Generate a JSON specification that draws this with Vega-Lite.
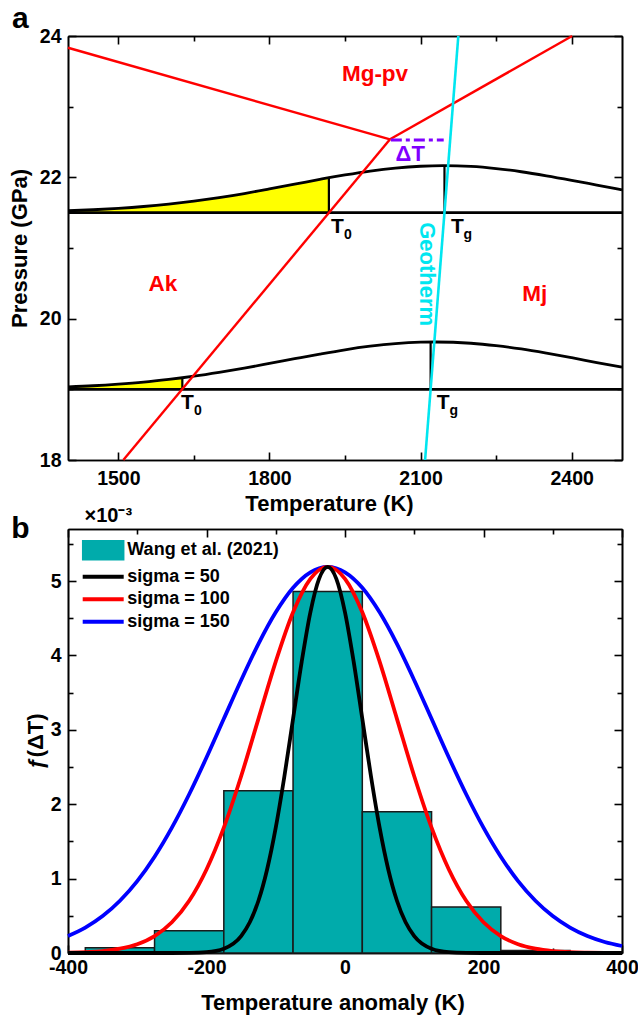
{
  "$schema": "https://vega.github.io/schema/vega-lite/v6.json",
  "padding": {"left": 8, "top": 3, "right": 4, "bottom": 2},
  "spacing": -9,
  "resolve": {"scale": {"color": "independent"}, "legend": {"color": "independent"}},
  "config": {
    "font": "Liberation Sans",
    "view": {"stroke": null},
    "axis": {"grid": false, "domainColor": "black", "domainWidth": 1.6, "tickColor": "black", "tickWidth": 1.6,
      "labelColor": "black", "labelFont": "Liberation Sans", "labelFontSize": 19.5, "labelFontWeight": "bold",
      "titleColor": "black", "titleFont": "Liberation Sans", "titleFontSize": 22, "titleFontWeight": "bold",
      "zindex": 1, "labelFlush": false, "labelOverlap": false}
  },
  "datasets": {
    "curveA": [
      {"T": 1400, "P": 21.527, "c": "u"}, {"T": 1450, "P": 21.541, "c": "u"}, {"T": 1500, "P": 21.561, "c": "u"},
      {"T": 1550, "P": 21.587, "c": "u"}, {"T": 1600, "P": 21.621, "c": "u"}, {"T": 1650, "P": 21.663, "c": "u"},
      {"T": 1700, "P": 21.713, "c": "u"}, {"T": 1750, "P": 21.771, "c": "u"}, {"T": 1800, "P": 21.836, "c": "u"},
      {"T": 1850, "P": 21.903, "c": "u"}, {"T": 1900, "P": 21.971, "c": "u"}, {"T": 1918, "P": 21.995, "c": "u"},
      {"T": 1950, "P": 22.034, "c": "u"}, {"T": 2000, "P": 22.089, "c": "u"}, {"T": 2050, "P": 22.131, "c": "u"},
      {"T": 2100, "P": 22.157, "c": "u"}, {"T": 2145, "P": 22.165, "c": "u"}, {"T": 2200, "P": 22.154, "c": "u"},
      {"T": 2250, "P": 22.124, "c": "u"}, {"T": 2300, "P": 22.079, "c": "u"}, {"T": 2350, "P": 22.022, "c": "u"},
      {"T": 2400, "P": 21.958, "c": "u"}, {"T": 2450, "P": 21.89, "c": "u"}, {"T": 2500, "P": 21.822, "c": "u"},
      {"T": 1400, "P": 19.035, "c": "l"}, {"T": 1450, "P": 19.051, "c": "l"}, {"T": 1500, "P": 19.074, "c": "l"},
      {"T": 1550, "P": 19.103, "c": "l"}, {"T": 1600, "P": 19.141, "c": "l"}, {"T": 1627, "P": 19.164, "c": "l"},
      {"T": 1650, "P": 19.186, "c": "l"}, {"T": 1700, "P": 19.24, "c": "l"}, {"T": 1750, "P": 19.3, "c": "l"},
      {"T": 1800, "P": 19.366, "c": "l"}, {"T": 1850, "P": 19.433, "c": "l"}, {"T": 1900, "P": 19.499, "c": "l"},
      {"T": 1950, "P": 19.56, "c": "l"}, {"T": 2000, "P": 19.61, "c": "l"}, {"T": 2050, "P": 19.647, "c": "l"},
      {"T": 2100, "P": 19.667, "c": "l"}, {"T": 2130, "P": 19.67, "c": "l"}, {"T": 2200, "P": 19.652, "c": "l"},
      {"T": 2250, "P": 19.618, "c": "l"}, {"T": 2300, "P": 19.571, "c": "l"}, {"T": 2350, "P": 19.512, "c": "l"},
      {"T": 2400, "P": 19.447, "c": "l"}, {"T": 2450, "P": 19.379, "c": "l"}, {"T": 2500, "P": 19.313, "c": "l"}
    ],
    "fillA": [
      {"T": 1400, "P": 21.527, "B": 21.5, "c": "u"}, {"T": 1450, "P": 21.541, "B": 21.5, "c": "u"}, {"T": 1500, "P": 21.561, "B": 21.5, "c": "u"},
      {"T": 1550, "P": 21.587, "B": 21.5, "c": "u"}, {"T": 1600, "P": 21.621, "B": 21.5, "c": "u"}, {"T": 1650, "P": 21.663, "B": 21.5, "c": "u"},
      {"T": 1700, "P": 21.713, "B": 21.5, "c": "u"}, {"T": 1750, "P": 21.771, "B": 21.5, "c": "u"}, {"T": 1800, "P": 21.836, "B": 21.5, "c": "u"},
      {"T": 1850, "P": 21.903, "B": 21.5, "c": "u"}, {"T": 1900, "P": 21.971, "B": 21.5, "c": "u"}, {"T": 1918, "P": 21.995, "B": 21.5, "c": "u"},
      {"T": 1400, "P": 19.035, "B": 19, "c": "l"}, {"T": 1450, "P": 19.051, "B": 19, "c": "l"}, {"T": 1500, "P": 19.074, "B": 19, "c": "l"},
      {"T": 1550, "P": 19.103, "B": 19, "c": "l"}, {"T": 1600, "P": 19.141, "B": 19, "c": "l"}, {"T": 1627, "P": 19.164, "B": 19, "c": "l"}
    ],
    "baseA": [{"P": 21.5}, {"P": 19}],
    "vertA": [
      {"T": 1918, "P1": 21.5, "P2": 21.995}, {"T": 2147.5, "P1": 21.5, "P2": 22.165},
      {"T": 1627, "P1": 19, "P2": 19.164}, {"T": 2120, "P1": 19, "P2": 19.67}
    ],
    "phaseA": [
      {"T1": 1400, "P1": 23.834, "T2": 2039.4, "P2": 22.538},
      {"T1": 1509.8, "P1": 18, "T2": 2039.4, "P2": 22.538},
      {"T1": 2039.4, "P1": 22.538, "T2": 2401, "P2": 24}
    ],
    "geoA": [{"T1": 2109, "P1": 18, "T2": 2175, "P2": 24}],
    "dTA": [{"T1": 2041, "P1": 22.528, "T2": 2146, "P2": 22.528}],
    "phaseLab": [
      {"T": 2009.6, "P": 23.46, "text": "Mg-pv"},
      {"T": 1588.6, "P": 20.49, "text": "Ak"},
      {"T": 2327, "P": 20.35, "text": "Mj"}
    ],
    "dTLab": [{"T": 2079.5, "P": 22.337, "text": "ΔT"}],
    "geoLab": [{"T": 2112.8, "P": 20.63, "text": "Geotherm"}],
    "tLab": [
      {"T": 1934.7, "P": 21.304, "main": "T", "sub": "0"},
      {"T": 2173, "P": 21.304, "main": "T", "sub": "g"},
      {"T": 1637.3, "P": 18.8, "main": "T", "sub": "0"},
      {"T": 2145, "P": 18.8, "main": "T", "sub": "g"}
    ],
    "hist": [
      {"lo": -375, "hi": -275, "f": 0.07, "series": "Wang et al. (2021)"},
      {"lo": -275, "hi": -175, "f": 0.3, "series": "Wang et al. (2021)"},
      {"lo": -175, "hi": -75, "f": 2.18, "series": "Wang et al. (2021)"},
      {"lo": -75, "hi": 25, "f": 4.86, "series": "Wang et al. (2021)"},
      {"lo": 25, "hi": 125, "f": 1.9, "series": "Wang et al. (2021)"},
      {"lo": 125, "hi": 225, "f": 0.62, "series": "Wang et al. (2021)"},
      {"lo": 225, "hi": 325, "f": 0.035, "series": "Wang et al. (2021)"}
    ],
    "gauss": [
      {"dT": -400, "f": 0.228, "series": "sigma = 150"}, {"dT": -375, "f": 0.341, "series": "sigma = 150"},
      {"dT": -350, "f": 0.496, "series": "sigma = 150"}, {"dT": -325, "f": 0.702, "series": "sigma = 150"},
      {"dT": -300, "f": 0.966, "series": "sigma = 150"}, {"dT": -275, "f": 1.294, "series": "sigma = 150"},
      {"dT": -250, "f": 1.685, "series": "sigma = 150"}, {"dT": -225, "f": 2.134, "series": "sigma = 150"},
      {"dT": -200, "f": 2.628, "series": "sigma = 150"}, {"dT": -175, "f": 3.148, "series": "sigma = 150"},
      {"dT": -150, "f": 3.667, "series": "sigma = 150"}, {"dT": -125, "f": 4.156, "series": "sigma = 150"},
      {"dT": -100, "f": 4.58, "series": "sigma = 150"}, {"dT": -75, "f": 4.91, "series": "sigma = 150"},
      {"dT": -50, "f": 5.118, "series": "sigma = 150"}, {"dT": -25, "f": 5.19, "series": "sigma = 150"},
      {"dT": 0, "f": 5.118, "series": "sigma = 150"}, {"dT": 25, "f": 4.91, "series": "sigma = 150"},
      {"dT": 50, "f": 4.58, "series": "sigma = 150"}, {"dT": 75, "f": 4.156, "series": "sigma = 150"},
      {"dT": 100, "f": 3.667, "series": "sigma = 150"}, {"dT": 125, "f": 3.148, "series": "sigma = 150"},
      {"dT": 150, "f": 2.628, "series": "sigma = 150"}, {"dT": 175, "f": 2.134, "series": "sigma = 150"},
      {"dT": 200, "f": 1.685, "series": "sigma = 150"}, {"dT": 225, "f": 1.294, "series": "sigma = 150"},
      {"dT": 250, "f": 0.966, "series": "sigma = 150"}, {"dT": 275, "f": 0.702, "series": "sigma = 150"},
      {"dT": 300, "f": 0.496, "series": "sigma = 150"}, {"dT": 325, "f": 0.341, "series": "sigma = 150"},
      {"dT": 350, "f": 0.228, "series": "sigma = 150"}, {"dT": 375, "f": 0.148, "series": "sigma = 150"},
      {"dT": 400, "f": 0.094, "series": "sigma = 150"},
      {"dT": -400, "f": 0.005, "series": "sigma = 100"}, {"dT": -375, "f": 0.011, "series": "sigma = 100"},
      {"dT": -350, "f": 0.026, "series": "sigma = 100"}, {"dT": -325, "f": 0.058, "series": "sigma = 100"},
      {"dT": -300, "f": 0.118, "series": "sigma = 100"}, {"dT": -275, "f": 0.228, "series": "sigma = 100"},
      {"dT": -250, "f": 0.413, "series": "sigma = 100"}, {"dT": -225, "f": 0.702, "series": "sigma = 100"},
      {"dT": -200, "f": 1.123, "series": "sigma = 100"}, {"dT": -175, "f": 1.685, "series": "sigma = 100"},
      {"dT": -150, "f": 2.376, "series": "sigma = 100"}, {"dT": -125, "f": 3.148, "series": "sigma = 100"},
      {"dT": -100, "f": 3.917, "series": "sigma = 100"}, {"dT": -75, "f": 4.58, "series": "sigma = 100"},
      {"dT": -50, "f": 5.03, "series": "sigma = 100"}, {"dT": -25, "f": 5.19, "series": "sigma = 100"},
      {"dT": 0, "f": 5.03, "series": "sigma = 100"}, {"dT": 25, "f": 4.58, "series": "sigma = 100"},
      {"dT": 50, "f": 3.917, "series": "sigma = 100"}, {"dT": 75, "f": 3.148, "series": "sigma = 100"},
      {"dT": 100, "f": 2.376, "series": "sigma = 100"}, {"dT": 125, "f": 1.685, "series": "sigma = 100"},
      {"dT": 150, "f": 1.123, "series": "sigma = 100"}, {"dT": 175, "f": 0.702, "series": "sigma = 100"},
      {"dT": 200, "f": 0.413, "series": "sigma = 100"}, {"dT": 225, "f": 0.228, "series": "sigma = 100"},
      {"dT": 250, "f": 0.118, "series": "sigma = 100"}, {"dT": 275, "f": 0.058, "series": "sigma = 100"},
      {"dT": 300, "f": 0.026, "series": "sigma = 100"}, {"dT": 325, "f": 0.011, "series": "sigma = 100"},
      {"dT": 350, "f": 0.005, "series": "sigma = 100"}, {"dT": 375, "f": 0.002, "series": "sigma = 100"},
      {"dT": 400, "f": 0.001, "series": "sigma = 100"},
      {"dT": -400, "f": 0, "series": "sigma = 50"}, {"dT": -300, "f": 0, "series": "sigma = 50"},
      {"dT": -250, "f": 0.0002, "series": "sigma = 50"}, {"dT": -225, "f": 0.002, "series": "sigma = 50"},
      {"dT": -200, "f": 0.011, "series": "sigma = 50"}, {"dT": -175, "f": 0.058, "series": "sigma = 50"},
      {"dT": -150, "f": 0.228, "series": "sigma = 50"}, {"dT": -137.5, "f": 0.413, "series": "sigma = 50"},
      {"dT": -125, "f": 0.702, "series": "sigma = 50"}, {"dT": -112.5, "f": 1.123, "series": "sigma = 50"},
      {"dT": -100, "f": 1.685, "series": "sigma = 50"}, {"dT": -87.5, "f": 2.376, "series": "sigma = 50"},
      {"dT": -75, "f": 3.148, "series": "sigma = 50"}, {"dT": -62.5, "f": 3.917, "series": "sigma = 50"},
      {"dT": -50, "f": 4.58, "series": "sigma = 50"}, {"dT": -37.5, "f": 5.03, "series": "sigma = 50"},
      {"dT": -25, "f": 5.19, "series": "sigma = 50"}, {"dT": -12.5, "f": 5.03, "series": "sigma = 50"},
      {"dT": 0, "f": 4.58, "series": "sigma = 50"}, {"dT": 12.5, "f": 3.917, "series": "sigma = 50"},
      {"dT": 25, "f": 3.148, "series": "sigma = 50"}, {"dT": 37.5, "f": 2.376, "series": "sigma = 50"},
      {"dT": 50, "f": 1.685, "series": "sigma = 50"}, {"dT": 62.5, "f": 1.123, "series": "sigma = 50"},
      {"dT": 75, "f": 0.702, "series": "sigma = 50"}, {"dT": 87.5, "f": 0.413, "series": "sigma = 50"},
      {"dT": 100, "f": 0.228, "series": "sigma = 50"}, {"dT": 125, "f": 0.058, "series": "sigma = 50"},
      {"dT": 150, "f": 0.011, "series": "sigma = 50"}, {"dT": 175, "f": 0.002, "series": "sigma = 50"},
      {"dT": 200, "f": 0.0002, "series": "sigma = 50"}, {"dT": 250, "f": 0, "series": "sigma = 50"},
      {"dT": 300, "f": 0, "series": "sigma = 50"}, {"dT": 400, "f": 0, "series": "sigma = 50"}
    ]
  },
  "vconcat": [
    {
      "width": 554, "height": 424,
      "resolve": {"axis": {"x": "independent", "y": "independent"}},
      "layer": [
        {
          "data": {"name": "fillA"},
          "mark": {"type": "area", "color": "#FFFF00", "interpolate": "monotone"},
          "encoding": {
            "x": {"field": "T", "type": "quantitative", "scale": {"domain": [1400, 2500], "nice": false, "zero": false},
              "axis": {"orient": "bottom", "values": [1500, 1800, 2100, 2400], "format": "d", "tickSize": -8, "labelPadding": 17.5,
                "title": "Temperature (K)", "titleX": 261, "titleY": 50, "titleAlign": "center", "titleBaseline": "alphabetic"}},
            "y": {"field": "P", "type": "quantitative", "scale": {"domain": [18, 24], "nice": false, "zero": false},
              "axis": {"orient": "left", "values": [18, 20, 22, 24], "tickSize": -8, "labelPadding": 15,
                "title": "Pressure (GPa)", "titleX": -42, "titleY": 212, "titleAngle": 270, "titleAlign": "center", "titleBaseline": "alphabetic"}},
            "y2": {"field": "B"},
            "detail": {"field": "c"}
          }
        },
        {
          "data": {"name": "baseA"},
          "mark": {"type": "rule", "color": "black", "strokeWidth": 2.8},
          "encoding": {
            "y": {"field": "P", "type": "quantitative", "scale": {"domain": [18, 24], "nice": false, "zero": false}, "axis": null}
          }
        },
        {
          "data": {"name": "curveA"},
          "mark": {"type": "line", "color": "black", "strokeWidth": 2.8, "interpolate": "monotone"},
          "encoding": {
            "x": {"field": "T", "type": "quantitative", "scale": {"domain": [1400, 2500], "nice": false, "zero": false},
              "axis": {"orient": "top", "values": [1500, 1800, 2100, 2400], "tickSize": -8, "labels": false,
                "title": "a", "titleX": -56.5, "titleY": -8.3, "titleAlign": "left", "titleAngle": 0, "titleBaseline": "alphabetic", "titleFontSize": 30}},
            "y": {"field": "P", "type": "quantitative", "scale": {"domain": [18, 24], "nice": false, "zero": false},
              "axis": {"orient": "right", "values": [18, 20, 22, 24], "tickSize": -8, "labels": false, "title": null}},
            "detail": {"field": "c"}
          }
        },
        {
          "data": {"name": "vertA"},
          "mark": {"type": "rule", "color": "black", "strokeWidth": 2.2},
          "encoding": {
            "x": {"field": "T", "type": "quantitative", "scale": {"domain": [1400, 2500], "nice": false, "zero": false},
              "axis": {"orient": "bottom", "values": [1650, 1950, 2250], "tickSize": -5, "labels": false, "title": null}},
            "y": {"field": "P1", "type": "quantitative", "scale": {"domain": [18, 24], "nice": false, "zero": false},
              "axis": {"orient": "left", "values": [19, 21, 23], "tickSize": -5, "labels": false, "title": null}},
            "y2": {"field": "P2"}
          }
        },
        {
          "data": {"name": "phaseA"},
          "mark": {"type": "rule", "color": "#FF0000", "strokeWidth": 2.4},
          "encoding": {
            "x": {"field": "T1", "type": "quantitative", "scale": {"domain": [1400, 2500], "nice": false, "zero": false},
              "axis": {"orient": "top", "values": [1650, 1950, 2250], "tickSize": -5, "labels": false, "title": null}},
            "y": {"field": "P1", "type": "quantitative", "scale": {"domain": [18, 24], "nice": false, "zero": false},
              "axis": {"orient": "right", "values": [19, 21, 23], "tickSize": -5, "labels": false, "title": null}},
            "x2": {"field": "T2"},
            "y2": {"field": "P2"}
          }
        },
        {
          "data": {"name": "dTA"},
          "mark": {"type": "rule", "color": "#8000FF", "strokeWidth": 3, "strokeDash": [11, 4, 4, 4]},
          "encoding": {
            "x": {"field": "T1", "type": "quantitative", "scale": {"domain": [1400, 2500], "nice": false, "zero": false}, "axis": null},
            "y": {"field": "P1", "type": "quantitative", "scale": {"domain": [18, 24], "nice": false, "zero": false}, "axis": null},
            "x2": {"field": "T2"},
            "y2": {"field": "P2"}
          }
        },
        {
          "data": {"name": "geoA"},
          "mark": {"type": "rule", "color": "#00E6F0", "strokeWidth": 2.6},
          "encoding": {
            "x": {"field": "T1", "type": "quantitative", "scale": {"domain": [1400, 2500], "nice": false, "zero": false}, "axis": null},
            "y": {"field": "P1", "type": "quantitative", "scale": {"domain": [18, 24], "nice": false, "zero": false}, "axis": null},
            "x2": {"field": "T2"},
            "y2": {"field": "P2"}
          }
        },
        {
          "data": {"name": "phaseLab"},
          "mark": {"type": "text", "color": "#FF0000", "font": "Liberation Sans", "fontWeight": "bold", "fontSize": 22.5, "align": "center", "baseline": "middle"},
          "encoding": {
            "x": {"field": "T", "type": "quantitative", "scale": {"domain": [1400, 2500], "nice": false, "zero": false}, "axis": null},
            "y": {"field": "P", "type": "quantitative", "scale": {"domain": [18, 24], "nice": false, "zero": false}, "axis": null},
            "text": {"field": "text"}
          }
        },
        {
          "data": {"name": "dTLab"},
          "mark": {"type": "text", "color": "#8000FF", "font": "Liberation Sans", "fontWeight": "bold", "fontSize": 22, "align": "center", "baseline": "middle"},
          "encoding": {
            "x": {"field": "T", "type": "quantitative", "scale": {"domain": [1400, 2500], "nice": false, "zero": false}, "axis": null},
            "y": {"field": "P", "type": "quantitative", "scale": {"domain": [18, 24], "nice": false, "zero": false}, "axis": null},
            "text": {"field": "text"}
          }
        },
        {
          "data": {"name": "geoLab"},
          "mark": {"type": "text", "color": "#00E6F0", "font": "Liberation Sans", "fontWeight": "bold", "fontSize": 22, "align": "center", "baseline": "middle", "angle": 90},
          "encoding": {
            "x": {"field": "T", "type": "quantitative", "scale": {"domain": [1400, 2500], "nice": false, "zero": false}, "axis": null},
            "y": {"field": "P", "type": "quantitative", "scale": {"domain": [18, 24], "nice": false, "zero": false}, "axis": null},
            "text": {"field": "text"}
          }
        },
        {
          "data": {"name": "tLab"},
          "mark": {"type": "text", "color": "black", "font": "Liberation Sans", "fontWeight": "bold", "fontSize": 21, "align": "center", "baseline": "middle"},
          "encoding": {
            "x": {"field": "T", "type": "quantitative", "scale": {"domain": [1400, 2500], "nice": false, "zero": false}, "axis": null},
            "y": {"field": "P", "type": "quantitative", "scale": {"domain": [18, 24], "nice": false, "zero": false}, "axis": null},
            "text": {"field": "main"}
          }
        },
        {
          "data": {"name": "tLab"},
          "mark": {"type": "text", "color": "black", "font": "Liberation Sans", "fontWeight": "bold", "fontSize": 14, "align": "center", "baseline": "middle", "dx": 10.5, "dy": 8},
          "encoding": {
            "x": {"field": "T", "type": "quantitative", "scale": {"domain": [1400, 2500], "nice": false, "zero": false}, "axis": null},
            "y": {"field": "P", "type": "quantitative", "scale": {"domain": [18, 24], "nice": false, "zero": false}, "axis": null},
            "text": {"field": "sub"}
          }
        }
      ]
    },
    {
      "width": 554, "height": 424,
      "resolve": {"axis": {"x": "independent", "y": "independent"}},
      "layer": [
        {
          "data": {"name": "hist"},
          "mark": {"type": "rect", "stroke": "#1a1a1a", "strokeWidth": 1.5, "opacity": 1},
          "encoding": {
            "x": {"field": "lo", "type": "quantitative", "scale": {"domain": [-400, 400], "nice": false, "zero": false},
              "axis": {"orient": "bottom", "values": [-400, -200, 0, 200, 400], "tickSize": -8, "labelPadding": 13,
                "labelExpr": "'' + datum.value",
                "title": "Temperature anomaly (K)", "titleX": 264.5, "titleY": 56, "titleAlign": "center", "titleBaseline": "alphabetic"}},
            "x2": {"field": "hi"},
            "y": {"field": "f", "type": "quantitative", "scale": {"domain": [0, 5.7], "nice": false, "zero": false},
              "axis": {"orient": "left", "values": [0, 1, 2, 3, 4, 5], "tickSize": -8, "labelPadding": 15,
                "title": "ƒ(ΔT)", "titleX": -25.5, "titleY": 212, "titleAngle": 270, "titleAlign": "center", "titleBaseline": "alphabetic"}},
            "y2": {"datum": 0},
            "color": {"field": "series", "type": "nominal",
              "scale": {"domain": ["Wang et al. (2021)", "sigma = 50", "sigma = 100", "sigma = 150"], "range": ["#00ABAB", "#000000", "#FF0000", "#0000FF"]},
              "legend": {
                "orient": "none", "legendX": 15.7, "legendY": 12.2, "padding": 0, "title": null,
                "labelFont": "Liberation Sans", "labelFontSize": 18, "labelFontWeight": "bold", "labelColor": "black",
                "labelOffset": 25.6, "symbolSize": 400, "rowPadding": 4.5,
                "encode": {"symbols": {"update": {
                  "shape": {"signal": "datum.value === 'Wang et al. (2021)' ? 'M-1,-0.95H3.1V0.95H-1Z' : 'M-1,0H3.1'"},
                  "fill": {"signal": "datum.value === 'Wang et al. (2021)' ? '#00ABAB' : 'transparent'"},
                  "stroke": {"signal": "datum.value === 'Wang et al. (2021)' ? '#1a1a1a' : datum.value === 'sigma = 50' ? '#000000' : datum.value === 'sigma = 100' ? '#FF0000' : '#0000FF'"},
                  "strokeWidth": {"signal": "datum.value === 'Wang et al. (2021)' ? 1.5 : 4"},
                  "opacity": {"value": 1},
                  "fillOpacity": {"value": 1}
                }}}
              }
            }
          }
        },
        {
          "data": {"name": "gauss"},
          "mark": {"type": "line", "strokeWidth": 3.8, "interpolate": "monotone"},
          "encoding": {
            "x": {"field": "dT", "type": "quantitative", "scale": {"domain": [-400, 400], "nice": false, "zero": false},
              "axis": {"orient": "top", "values": [-400, -200, 0, 200, 400], "tickSize": -8, "labels": false,
                "title": "×10⁻³", "titleX": 16, "titleY": -8, "titleAlign": "left", "titleAngle": 0, "titleBaseline": "alphabetic", "titleFontSize": 20}},
            "y": {"field": "f", "type": "quantitative", "scale": {"domain": [0, 5.7], "nice": false, "zero": false},
              "axis": {"orient": "right", "values": [0, 1, 2, 3, 4, 5], "tickSize": -8, "labels": false, "title": null}},
            "color": {"field": "series", "type": "nominal",
              "legend": {
                "orient": "none", "legendX": 15.7, "legendY": 12.2, "padding": 0, "title": null,
                "labelFont": "Liberation Sans", "labelFontSize": 18, "labelFontWeight": "bold", "labelColor": "black",
                "labelOffset": 25.6, "symbolSize": 400, "rowPadding": 4.5,
                "encode": {"symbols": {"update": {
                  "shape": {"signal": "datum.value === 'Wang et al. (2021)' ? 'M-1,-0.95H3.1V0.95H-1Z' : 'M-1,0H3.1'"},
                  "fill": {"signal": "datum.value === 'Wang et al. (2021)' ? '#00ABAB' : 'transparent'"},
                  "stroke": {"signal": "datum.value === 'Wang et al. (2021)' ? '#1a1a1a' : datum.value === 'sigma = 50' ? '#000000' : datum.value === 'sigma = 100' ? '#FF0000' : '#0000FF'"},
                  "strokeWidth": {"signal": "datum.value === 'Wang et al. (2021)' ? 1.5 : 4"},
                  "opacity": {"value": 1},
                  "fillOpacity": {"value": 1}
                }}}
              }
            }
          }
        },
        {
          "data": {"name": "hist"},
          "mark": {"type": "point", "opacity": 0},
          "encoding": {
            "x": {"field": "lo", "type": "quantitative", "scale": {"domain": [-400, 400], "nice": false, "zero": false},
              "axis": {"orient": "bottom", "values": [-300, -100, 100, 300], "tickSize": -5, "labels": false, "title": null}},
            "y": {"field": "f", "type": "quantitative", "scale": {"domain": [0, 5.7], "nice": false, "zero": false},
              "axis": {"orient": "left", "values": [0.5, 1.5, 2.5, 3.5, 4.5, 5.5], "tickSize": -5, "labels": false, "title": null}}
          }
        },
        {
          "data": {"name": "hist"},
          "mark": {"type": "point", "opacity": 0},
          "encoding": {
            "x": {"field": "lo", "type": "quantitative", "scale": {"domain": [-400, 400], "nice": false, "zero": false},
              "axis": {"orient": "top", "values": [-300, -100, 100, 300], "tickSize": -5, "labels": false,
                "title": "b", "titleX": -57.3, "titleY": 8.7, "titleAlign": "left", "titleAngle": 0, "titleBaseline": "alphabetic", "titleFontSize": 30}},
            "y": {"field": "f", "type": "quantitative", "scale": {"domain": [0, 5.7], "nice": false, "zero": false},
              "axis": {"orient": "right", "values": [0.5, 1.5, 2.5, 3.5, 4.5, 5.5], "tickSize": -5, "labels": false, "title": null}}
          }
        }
      ]
    }
  ]
}
